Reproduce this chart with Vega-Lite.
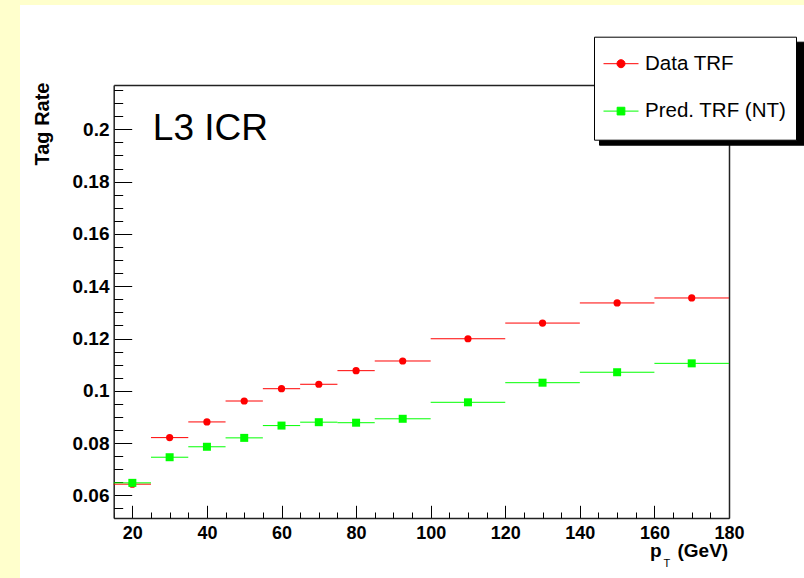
{
  "$schema": "https://vega.github.io/schema/vega-lite/v6.json",
  "width": 784,
  "height": 573,
  "autosize": "none",
  "padding": {"left": 20, "top": 5, "right": 0, "bottom": 0},
  "background": "#ffffcc",
  "config": {
    "view": {"stroke": null, "fill": "white"},
    "font": "Liberation Sans",
    "axis": {
      "grid": false,
      "labelFont": "Liberation Sans",
      "titleFont": "Liberation Sans",
      "labelColor": "black",
      "titleColor": "black",
      "tickColor": "black",
      "domainColor": "#222222"
    }
  },
  "datasets": {
    "trf": [
      {"series": "Data TRF", "pt": 20, "lo": 15, "hi": 25, "rate": 0.0643},
      {"series": "Data TRF", "pt": 30, "lo": 25, "hi": 35, "rate": 0.0821},
      {"series": "Data TRF", "pt": 40, "lo": 35, "hi": 45, "rate": 0.0881},
      {"series": "Data TRF", "pt": 50, "lo": 45, "hi": 55, "rate": 0.0961},
      {"series": "Data TRF", "pt": 60, "lo": 55, "hi": 65, "rate": 0.1008},
      {"series": "Data TRF", "pt": 70, "lo": 65, "hi": 75, "rate": 0.1025},
      {"series": "Data TRF", "pt": 80, "lo": 75, "hi": 85, "rate": 0.1077},
      {"series": "Data TRF", "pt": 92.5, "lo": 85, "hi": 100, "rate": 0.1114},
      {"series": "Data TRF", "pt": 110, "lo": 100, "hi": 120, "rate": 0.1199},
      {"series": "Data TRF", "pt": 130, "lo": 120, "hi": 140, "rate": 0.1259},
      {"series": "Data TRF", "pt": 150, "lo": 140, "hi": 160, "rate": 0.1336},
      {"series": "Data TRF", "pt": 170, "lo": 160, "hi": 180, "rate": 0.1355},
      {"series": "Pred. TRF (NT)", "pt": 20, "lo": 15, "hi": 25, "rate": 0.0648},
      {"series": "Pred. TRF (NT)", "pt": 30, "lo": 25, "hi": 35, "rate": 0.0746},
      {"series": "Pred. TRF (NT)", "pt": 40, "lo": 35, "hi": 45, "rate": 0.0786},
      {"series": "Pred. TRF (NT)", "pt": 50, "lo": 45, "hi": 55, "rate": 0.0820},
      {"series": "Pred. TRF (NT)", "pt": 60, "lo": 55, "hi": 65, "rate": 0.0867},
      {"series": "Pred. TRF (NT)", "pt": 70, "lo": 65, "hi": 75, "rate": 0.0880},
      {"series": "Pred. TRF (NT)", "pt": 80, "lo": 75, "hi": 85, "rate": 0.0878},
      {"series": "Pred. TRF (NT)", "pt": 92.5, "lo": 85, "hi": 100, "rate": 0.0893},
      {"series": "Pred. TRF (NT)", "pt": 110, "lo": 100, "hi": 120, "rate": 0.0956},
      {"series": "Pred. TRF (NT)", "pt": 130, "lo": 120, "hi": 140, "rate": 0.1031},
      {"series": "Pred. TRF (NT)", "pt": 150, "lo": 140, "hi": 160, "rate": 0.1071},
      {"series": "Pred. TRF (NT)", "pt": 170, "lo": 160, "hi": 180, "rate": 0.1105}
    ],
    "note": [{"label": "L3 ICR", "pt": 25.5, "rate": 0.1959}]
  },
  "layer": [
    {
      "data": {"name": "trf"},
      "mark": {"type": "rule", "strokeWidth": 1},
      "encoding": {
        "x": {
          "field": "lo",
          "type": "quantitative",
          "scale": {"domain": [15, 180], "range": [93.7, 709], "nice": false, "zero": false},
          "axis": {
            "orient": "bottom",
            "offset": -60,
            "values": [20, 40, 60, 80, 100, 120, 140, 160, 180],
            "format": "d",
            "tickSize": -12.7,
            "tickWidth": 1,
            "domainWidth": 1.5,
            "labelFontSize": 18,
            "labelFontWeight": "bold",
            "labelPadding": 19.4,
            "labelFlush": false,
            "labelOverlap": false,
            "title": "(GeV)",
            "titleFontSize": 19,
            "titleFontWeight": "bold",
            "titleAlign": "right",
            "titleBaseline": "alphabetic",
            "titleX": 707.7,
            "titleY": 38
          }
        },
        "x2": {"field": "hi"},
        "y": {
          "field": "rate",
          "type": "quantitative",
          "scale": {"domain": [0.05136, 0.21694], "range": [513, 80], "nice": false, "zero": false},
          "axis": {
            "orient": "left",
            "offset": -93.7,
            "values": [0.06, 0.08, 0.1, 0.12, 0.14, 0.16, 0.18, 0.2],
            "format": "~g",
            "tickSize": -18,
            "tickWidth": 1,
            "domainWidth": 1.5,
            "labelFontSize": 19,
            "labelFontWeight": "bold",
            "labelPadding": 22.7,
            "labelFlush": false,
            "labelOverlap": false,
            "title": "Tag Rate",
            "titleFontSize": 20,
            "titleFontWeight": "bold",
            "titleAngle": 270,
            "titleAlign": "right",
            "titleBaseline": "alphabetic",
            "titleX": -65.4,
            "titleY": 77
          }
        },
        "color": {
          "field": "series",
          "type": "nominal",
          "scale": {"domain": ["Data TRF", "Pred. TRF (NT)"], "range": ["#ff0000", "#00ff00"]},
          "legend": {
            "orient": "none",
            "legendX": 574,
            "legendY": 31.7,
            "zindex": 2,
            "title": null,
            "fillColor": "white",
            "strokeColor": "black",
            "padding": 9,
            "symbolSize": 1225,
            "symbolStrokeWidth": 1,
            "symbolOpacity": 1,
            "labelFont": "Liberation Sans",
            "labelFontSize": 20.5,
            "labelColor": "black",
            "labelOffset": 6,
            "labelLimit": 300,
            "rowPadding": 7.4,
            "encode": {
              "symbols": {
                "update": {
                  "shape": [
                    {"test": "datum.value === 'Data TRF'", "value": "M0,-1M0,1M-1,0H1M-0.23,0A0.23,0.23 0 1,0 0.23,0A0.23,0.23 0 1,0 -0.23,0Z"},
                    {"value": "M0,-1M0,1M-1,0H1M-0.22,-0.22H0.22V0.22H-0.22Z"}
                  ],
                  "fill": [
                    {"test": "datum.value === 'Data TRF'", "value": "#ff0000"},
                    {"value": "#00ff00"}
                  ],
                  "stroke": [
                    {"test": "datum.value === 'Data TRF'", "value": "#ff0000"},
                    {"value": "#00ff00"}
                  ]
                }
              }
            }
          }
        }
      }
    },
    {
      "data": {"name": "trf"},
      "mark": {"type": "point", "filled": true, "opacity": 1},
      "encoding": {
        "x": {
          "field": "pt",
          "type": "quantitative",
          "axis": {
            "orient": "bottom",
            "offset": -60,
            "values": [15, 25, 30, 35, 45, 50, 55, 65, 70, 75, 85, 90, 95, 105, 110, 115, 125, 130, 135, 145, 150, 155, 165, 170, 175],
            "tickSize": -6,
            "tickWidth": 1,
            "labels": false,
            "domain": false,
            "title": "p",
            "titleFontSize": 19,
            "titleFontWeight": "bold",
            "titleAlign": "left",
            "titleBaseline": "alphabetic",
            "titleX": 629.6,
            "titleY": 38
          }
        },
        "y": {
          "field": "rate",
          "type": "quantitative",
          "axis": {
            "orient": "left",
            "offset": -93.7,
            "values": [0.055, 0.065, 0.07, 0.075, 0.085, 0.09, 0.095, 0.105, 0.11, 0.115, 0.125, 0.13, 0.135, 0.145, 0.15, 0.155, 0.165, 0.17, 0.175, 0.185, 0.19, 0.195, 0.205, 0.21, 0.215],
            "tickSize": -9,
            "tickWidth": 1,
            "labels": false,
            "domain": false,
            "title": null
          }
        },
        "color": {"field": "series", "type": "nominal"},
        "shape": {"field": "series", "type": "nominal", "scale": {"range": ["circle", "square"]}, "legend": null},
        "size": {"field": "series", "type": "nominal", "scale": {"range": [52, 64]}, "legend": null}
      }
    },
    {
      "data": {"name": "note"},
      "mark": {"type": "text", "align": "left", "baseline": "alphabetic", "fontSize": 37, "font": "Liberation Sans", "color": "black"},
      "encoding": {
        "x": {
          "field": "pt",
          "type": "quantitative",
          "axis": {
            "orient": "top",
            "offset": -80,
            "ticks": false,
            "labels": false,
            "domainWidth": 1.5,
            "title": "T",
            "titleFontSize": 11,
            "titleFontWeight": "normal",
            "titleAlign": "left",
            "titleBaseline": "alphabetic",
            "titleX": 643,
            "titleY": 481
          }
        },
        "y": {
          "field": "rate",
          "type": "quantitative",
          "axis": {
            "orient": "right",
            "offset": -75,
            "ticks": false,
            "labels": false,
            "domainWidth": 1.5,
            "title": null
          }
        },
        "text": {"field": "label"}
      }
    },
    {
      "data": {"name": "trf"},
      "mark": {"type": "rule", "opacity": 0},
      "encoding": {
        "x": {"field": "lo", "type": "quantitative", "axis": null},
        "x2": {"field": "hi"},
        "y": {"field": "rate", "type": "quantitative", "axis": null},
        "strokeDash": {
          "field": "series",
          "type": "nominal",
          "scale": {"range": [[1, 0], [1, 0]]},
          "legend": {
            "orient": "none",
            "legendX": 579,
            "legendY": 36.7,
            "zindex": 1,
            "title": null,
            "fillColor": "black",
            "strokeColor": "black",
            "padding": 9,
            "symbolType": "M-1,-1.12M9.686,1.12",
            "symbolSize": 1225,
            "symbolStrokeWidth": 1,
            "symbolOpacity": 0,
            "labelExpr": "''",
            "labelOffset": 0,
            "labelFontSize": 20,
            "rowPadding": 7.4
          }
        }
      }
    }
  ],
  "resolve": {"axis": {"x": "independent", "y": "independent"}}
}
